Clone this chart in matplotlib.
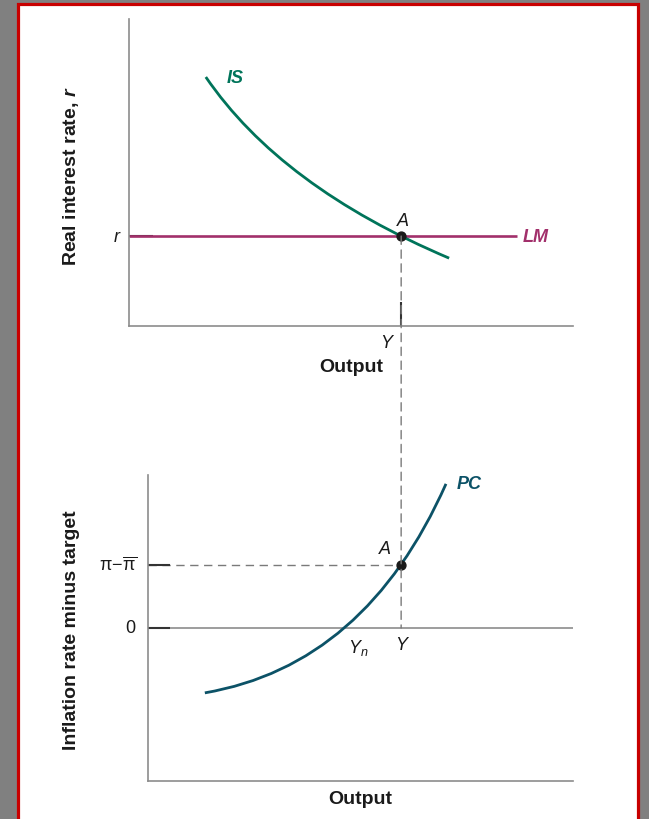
import matplotlib
matplotlib.use("Agg")
import matplotlib.pyplot as plt
from matplotlib.path import Path
from matplotlib.patches import PathPatch, Rectangle, ConnectionPatch

plt.rcParams['font.family'] = ['Liberation Sans', 'DejaVu Sans']
plt.rcParams['mathtext.fontset'] = 'custom'
plt.rcParams['mathtext.rm'] = 'Liberation Sans'
plt.rcParams['mathtext.it'] = 'Liberation Sans:italic'
plt.rcParams['mathtext.bf'] = 'Liberation Sans:bold'
plt.rcParams['mathtext.bfit'] = 'Liberation Sans:italic:bold'

# --- values (arbitrary output / rate units) ---
output_eq = 6.13            # equilibrium output Y
real_rate = 2.93            # real interest rate r set by the central bank
output_natural = 4.83       # potential output Y_n
infl_gap = 2.06             # pi - pi_bar at point A

# IS curve: start, control, end (quadratic Bezier)
is_output = [1.73, 3.42, 7.21]
is_rate = [8.11, 4.53, 2.21]
lm_output_end = 8.74

# Phillips curve: start, control, end (quadratic Bezier)
pc_output = [1.71, 5.33, 7.14]
pc_gap = [-2.12, -1.22, 4.71]

IS_COLOR = '#00745a'
LM_COLOR = '#a2306b'
PC_COLOR = '#0c5267'
AXIS_COLOR = '#8c8c8c'
TICK_COLOR = '#333333'
DASH_COLOR = '#7a7a7a'
INK = '#1a1a1a'

W, H = 649, 820
fig = plt.figure(figsize=(W / 100, H / 100), dpi=100)
fig.patch.set_facecolor('#808080')


def frac(x0, y0, x1, y1):
    return [x0 / W, 1 - y1 / H, (x1 - x0) / W, (y1 - y0) / H]


# white page with red frame
page = Rectangle((17.5 / W, -0.05), (637.5 - 17.5) / W, 1.05 - 4.5 / H,
                 transform=fig.transFigure, facecolor='white',
                 edgecolor='#c80000', linewidth=2.3, zorder=-10)
fig.add_artist(page)

ax1 = fig.add_axes(frac(129, 20, 573, 327))
ax2 = fig.add_axes(frac(148, 476, 573, 782))

for ax in (ax1, ax2):
    ax.set_facecolor('none')
    ax.set_zorder(1)
    for s in ('top', 'right'):
        ax.spines[s].set_visible(False)
    for s in ('left', 'bottom'):
        ax.spines[s].set_color(AXIS_COLOR)
        ax.spines[s].set_linewidth(1.2)

# ---------------- top panel: IS-MP ----------------
ax1.set_xlim(0, 10)
ax1.set_ylim(0, 10)

codes = [Path.MOVETO, Path.CURVE3, Path.CURVE3]
is_path = Path(list(zip(is_output, is_rate)), codes)
ax1.add_patch(PathPatch(is_path, facecolor='none', edgecolor=IS_COLOR,
                        linewidth=2.0, capstyle='butt', zorder=3))
ax1.plot([0, lm_output_end], [real_rate, real_rate], color=LM_COLOR,
         linewidth=1.9, solid_capstyle='butt', zorder=2)

ax1.set_xticks([output_eq], labels=[''])
ax1.set_yticks([real_rate], labels=[''])
ax1.tick_params(direction='in', length=17, width=1.5, color=TICK_COLOR)

ax1.plot([output_eq], [real_rate], 'o', color=INK, markersize=6.4, zorder=5)

ax1.annotate('IS', (is_output[0], is_rate[0]), xytext=(21, 0),
             textcoords='offset points', ha='center', va='center',
             fontsize=13, fontweight='bold', fontstyle='italic', color=IS_COLOR)
ax1.annotate('LM', (lm_output_end, real_rate), xytext=(4, 0),
             textcoords='offset points', ha='left', va='center',
             fontsize=13, fontweight='bold', fontstyle='italic', color=LM_COLOR)
ax1.annotate('A', (output_eq, real_rate), xytext=(1.5, 11.5),
             textcoords='offset points', ha='center', va='center',
             fontsize=13, fontstyle='italic', color=INK)
ax1.annotate('r', (0, real_rate), xytext=(-7, 0), textcoords='offset points',
             ha='right', va='center', fontsize=13, fontstyle='italic',
             color=INK, annotation_clip=False)
ax1.annotate('Y', (output_eq, 0), xytext=(-11, -12), textcoords='offset points',
             ha='center', va='center', fontsize=13, fontstyle='italic',
             color=INK, annotation_clip=False)
ax1.text(0.5, -40 / 307, 'Output', transform=ax1.transAxes, ha='center',
         va='center', fontsize=14, fontweight='bold', color=INK)

# ---------------- bottom panel: Phillips curve ----------------
ax2.set_xlim(0.43, 10.0)
ax2.set_ylim(-5, 5)

pc_path = Path(list(zip(pc_output, pc_gap)), codes)
ax2.add_patch(PathPatch(pc_path, facecolor='none', edgecolor=PC_COLOR,
                        linewidth=2.0, capstyle='butt', zorder=3))
ax2.axhline(0, color=AXIS_COLOR, linewidth=1.2, zorder=1)
ax2.plot([0.43, output_eq], [infl_gap, infl_gap], color=DASH_COLOR,
         linewidth=1.0, dashes=(6, 4), zorder=1)

ax2.set_xticks([])
ax2.set_yticks([0, infl_gap], labels=['', ''])
ax2.tick_params(axis='y', direction='in', length=16, width=1.5, color=TICK_COLOR)

ax2.plot([output_eq], [infl_gap], 'o', color=INK, markersize=6.4, zorder=5)

ax2.annotate('PC', (pc_output[-1], pc_gap[-1]), xytext=(8, 0),
             textcoords='offset points', ha='left', va='center',
             fontsize=13, fontweight='bold', fontstyle='italic', color=PC_COLOR)
ax2.annotate('A', (output_eq, infl_gap), xytext=(-12, 11.5),
             textcoords='offset points', ha='center', va='center',
             fontsize=13, fontstyle='italic', color=INK)
ax2.annotate('Y', (output_eq, 0), xytext=(0, -12), textcoords='offset points',
             ha='center', va='center', fontsize=13, fontstyle='italic',
             color=INK)
ax2.annotate(r'$Y_n$', (output_natural, 0), xytext=(11, -13.5),
             textcoords='offset points', ha='center', va='center',
             fontsize=13, color=INK)
ax2.annotate('0', (0.43, 0), xytext=(-9.4, 0), textcoords='offset points',
             ha='right', va='center', fontsize=13, color=INK,
             annotation_clip=False)
ax2.annotate(r'$\mathrm{π}\!-\!\overline{\mathrm{π}}$', (0.43, infl_gap),
             xytext=(-8, 0), textcoords='offset points', ha='right',
             va='center', fontsize=13, color=INK, annotation_clip=False)
ax2.text(0.5, -18 / 306, 'Output', transform=ax2.transAxes, ha='center',
         va='center', fontsize=14, fontweight='bold', color=INK)

# dashed guide from A in the top panel down to the zero line below
con = ConnectionPatch(xyA=(output_eq, real_rate), coordsA=ax1.transData,
                      xyB=(output_eq, 0), coordsB=ax2.transData,
                      color=DASH_COLOR, linewidth=1.0, linestyle=(0, (6, 4)),
                      zorder=2)
fig.add_artist(con)

# vertical axis titles
fig.text(71 / W, 1 - 176 / H, r'Real interest rate, $\mathbfit{r}$', rotation=90,
         ha='center', va='center', fontsize=14, fontweight='bold', color=INK)
fig.text(71 / W, 1 - 630 / H, 'Inflation rate minus target', rotation=90,
         ha='center', va='center', fontsize=14, fontweight='bold', color=INK)

fig.savefig('out.png', dpi=100, facecolor=fig.get_facecolor())
